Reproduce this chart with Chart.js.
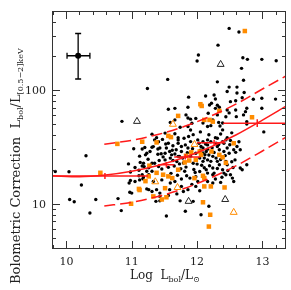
<!DOCTYPE html>
<html>
<head>
<meta charset="utf-8">
<script src="https://cdn.jsdelivr.net/npm/chart.js@4.4.1/dist/chart.umd.min.js"></script>
<style>
  html, body { margin: 0; padding: 0; background: #fff; }
  #wrap { width: 291px; height: 290px; }
</style>
</head>
<body>
<div id="wrap"><canvas id="bcChart" width="291" height="290"></canvas></div>
<script>
// Axis ticks
const xTickLabels = [10, 11, 12, 13];
const xMinorTicks = [9.8, 10.2, 10.4, 10.6, 10.8, 11.2, 11.4, 11.6, 11.8, 12.2, 12.4, 12.6, 12.8, 13.2];
const yTickLabels = [10, 100];
const yMinorTicks = [5, 6, 7, 8, 9, 20, 30, 40, 50, 60, 70, 80, 90, 200, 300, 400];

// Sources: [log Lbol, bolometric correction]
const blackPts = [
  [12.49,348],[12.64,324],[12.32,248],[12.02,203],[12.00,180],[12.70,192],[12.77,186],[12.99,186],[13.21,181],
  [11.55,124],[11.24,103],[10.85,53],[12.31,118],[12.68,155],[12.71,122],[12.49,106],[12.46,97],[12.61,106],[12.61,94],[12.72,95],
  [11.87,86.5],[12.13,88.6],[12.26,90.4],[12.28,83.4],[12.59,80.5],[12.69,85.5],[12.86,83],[12.99,84.5],[13.20,83.2],
  [11.56,67.8],[11.66,69],[11.86,70.5],[12.22,76.5],[12.31,73.5],[12.28,69],[12.34,70.5],[12.46,66.8],[12.59,66.8],[12.76,69.2],[12.99,69.2],
  [11.83,60.4],[11.86,56.8],[11.59,51.9],[11.66,54.6],[11.74,47.1],[11.92,51],[12.17,62.5],[12.31,60.4],[12.60,58.3],[12.71,60.4],[12.44,58.1],
  [11.90,55.4],[12.24,54.6],[12.33,51.9],[11.86,47.7],[12.16,47.7],[12.35,48.3],[12.76,50.3],[13.02,42.8],[12.51,79],[12.49,62.9],
  [12.74,64.5],[12.76,52.7],[12.09,51.2],[12.21,48.6],[12.39,51.2],[12.39,44.6],[12.19,73.9],[11.98,56.3],
  [11.31,40.9],[11.38,38.1],[11.51,41.8],[11.57,39],[11.71,38.1],[11.80,37.6],[11.87,39],
  [11.03,30.4],[11.20,31.2],[11.16,30.3],[11.21,26.9],[11.23,27.8],[11.31,31.4],[11.40,30.3],[11.56,34],[11.63,32.3],[11.71,34],
  [11.82,32.9],[11.53,30.9],[11.58,28.8],[11.68,29.8],[11.76,28.8],[11.41,35.1],[11.33,31.8],[11.71,36.4],
  [12.01,36.4],[12.16,36.4],[12.31,37.6],[12.39,35.1],[12.44,36.4],[12.51,36],[12.61,31.9],[12.09,30.9],[11.76,31.9],[11.86,30.9],
  [12.31,31.9],[12.09,35.1],[12.16,32.9],[12.21,35.1],[12.29,34],[12.41,34],[11.98,27.8],[12.14,28.8],[12.34,29.8],[12.41,28.8],
  [12.56,29.8],[12.59,28.3],[12.28,38.1],[12.46,38.1],[12.64,35.1],[12.66,29.8],[12.49,27.8],[11.35,36.4],[11.43,30.9],[12.09,28],
  [12.16,30.2],[11.51,27.8],[11.61,26.9],[11.73,26.1],[11.28,28.8],
  [10.95,22.4],[11.05,20.8],[11.13,23.1],[11.18,22.7],[11.16,21.5],[11.35,22.7],[11.42,24],[11.51,24.3],[11.59,25.2],[11.63,24],
  [11.71,26.1],[11.78,25.2],[11.73,22.4],[11.65,21.5],[11.56,20.9],[11.46,20.2],[11.31,19.3],[11.23,19.3],[11.11,19.7],[10.98,19],
  [11.11,17.6],[11.18,17.2],[11.26,18],[11.81,19.3],[11.84,17.6],[11.89,16.8],[11.76,16.5],[11.66,15.7],[11.59,15.2],[11.46,16.2],
  [11.33,15.7],[11.12,16.2],[11.05,15.7],[10.96,15.2],[11.26,13.3],[11.31,12.8],[11.38,13.3],[11.43,12.4],[11.58,13.3],[11.76,14.2],
  [11.79,12.8],[11.86,13.3],[10.97,12.6],[11.00,12.4],[11.43,11.6],[11.56,11.8],[11.37,10.5],[11.43,10.6],[11.74,10.6],[11.53,7.8],
  [11.82,8.6],[11.16,18],[11.98,17.3],[11.31,22.7],[11.41,21.2],[11.26,20.7],[11.94,22.7],[12.16,24.3],
  [12.09,23.6],[12.21,23.6],[12.29,25.2],[12.34,22],[12.46,22],[12.24,20.6],[12.14,19.9],[12.04,19.2],[12.16,18.6],[12.26,18.6],
  [12.41,18.6],[12.44,18],[12.01,15.7],[12.16,15.7],[12.24,15.2],[12.36,15.4],[12.54,16.8],[12.56,15.7],[12.66,20.6],[12.69,19.9],
  [12.76,22],[11.98,14.2],[12.04,13],[11.94,10.5],[12.18,9.5],[12.06,8.0],[12.44,23.6],[12.58,24.3],[12.11,20.7],[12.39,19.9],
  [12.24,18],[12.51,18],[12.24,26.1],[12.11,25.2],[12.04,25.2],[12.46,30.9],[12.06,31.9],[12.31,23.6],
  [10.30,26.4],[9.83,19.2],[10.04,19.1],[10.23,14.6],[10.05,10.9],[10.12,10.4],[10.45,10.9],[10.36,8.3],[10.79,11.1],[10.84,8.7],
  [10.98,16.0],[11.19,21.2],[11.17,16.6],[11.23,13.5],
  [11.45,27.5],[11.48,25.8],[11.62,29.5],[11.66,27.4],[11.69,23.5],[11.75,20.3],[11.79,22.8],[11.83,21.0],[11.85,28.1],[11.90,26.2],
  [11.93,30.5],[11.95,20.0],[11.97,18.8],[12.00,22.3],[12.03,34.0],[12.05,29.6],[12.07,21.8],[12.12,27.0],[12.13,33.5],[12.18,26.8],
  [12.19,21.6],[12.23,31.0],[12.26,28.2],[12.28,16.5],[12.31,20.4],[12.33,33.2],[12.36,24.5],[12.38,17.1],[12.43,26.5],[12.47,19.6],
  [12.50,33.0],[12.53,23.4],[12.55,20.8],[11.52,33.5],[11.47,36.8],[11.66,41.2],[11.90,35.2],[11.94,40.5],[12.05,42.8],[12.18,40.4],
  [12.36,41.0],[12.53,42.0],[11.60,18.5],[11.70,17.8],[11.92,14.8],[11.69,12.2],[11.25,24.6],[11.40,27.2],[11.12,26.2],[11.90,44.5]
];
const orangePts = [
  [12.73,330],[10.78,33.6],[11.16,35.1],[11.71,59.2],[11.60,38.5],[12.05,75],[12.07,72.4],[12.34,65.5],[12.84,57.6],[12.11,54.6],
  [11.56,39.5],[12.56,34],[11.38,34.6],[11.91,28.3],[11.27,21.6],[11.83,26.4],[11.88,24],[11.81,23.1],[10.52,18.7],[11.38,18.7],
  [11.48,18],[11.56,17.4],[11.62,16.8],[11.71,19.9],[11.21,15.8],[11.11,13.5],[11.12,13.2],[11.51,13.7],[11.33,11.6],[11.46,10.9],
  [11.53,11.4],[10.99,10.0],[11.26,17.4],[12.06,26.9],[12.22,28.8],[11.98,24.3],[12.39,25.6],[12.44,22.9],[12.09,17.6],[12.11,16.8],
  [11.96,16.8],[12.11,14.2],[12.21,14.2],[12.42,13.9],[12.09,10.3],[12.20,8.0],[12.18,6.3],[12.04,28.8],[12.34,26.9],[12.19,54.6],
  [12.24,52.7]
];
const blackTriPts = [[11.08,53],[12.36,168],[11.87,10.5],[12.43,10.9]];
const orangeTriPts = [[11.63,50],[11.96,33.2],[11.36,15.6],[11.70,13.9],[12.56,8.4]];

// Fit curve and dispersion band
const fitX = [9.78, 10.2, 10.6, 11.0, 11.4, 11.8, 12.2, 12.6, 13.0, 13.36];
const fitMid = [17.6, 17.3, 17.9, 19.3, 21.7, 25.5, 31.4, 40.4, 54.4, 72];
const bandX = [10.58, 11.0, 11.4, 11.8, 12.2, 12.6, 13.0, 13.36];
const bandUpper = [33.4, 36.1, 40.6, 47.7, 58.7, 75.5, 102, 133];
const bandLower = [9.55, 10.3, 11.6, 13.6, 16.8, 21.6, 29.1, 38.5];

// Binned means with errors
const binX = [10.59, 11.53, 11.82, 12.26, 12.92];
const binY = [17.5, 22.0, 25.8, 34.3, 51.1];
const binXLo = [9.78, 11.40, 11.65, 12.00, 12.40];
const binXHi = [11.25, 11.65, 12.05, 12.43, 13.36];
const binYLo = [16.5, 20.8, 24.5, 32.2, 47.2];
const binYHi = [18.6, 23.3, 27.2, 36.5, 55.3];

// Typical error (top left)
const typX = [10.18];
const typY = [200];
const typXLo = [10.01];
const typXHi = [10.36];
const typYLo = [125];
const typYHi = [314];

const RED = "#ff1a1a";
const ORANGE = "#ff8c00";
const SERIF = "'DejaVu Serif', serif";

const toXY = (pairs) => pairs.map(([x, y]) => ({ x, y }));
const zipXY = (xs, ys) => xs.map((x, i) => ({ x, y: ys[i] }));

// Draws error bars for the binned means and the typical error point
const errorBarPlugin = {
  id: "errorBars",
  afterDatasetsDraw(chart) {
    const { ctx, chartArea } = chart;
    const xs = chart.scales.x;
    const ys = chart.scales.y;
    ctx.save();
    ctx.beginPath();
    ctx.rect(chartArea.left, chartArea.top, chartArea.right - chartArea.left, chartArea.bottom - chartArea.top);
    ctx.clip();

    ctx.strokeStyle = RED;
    ctx.lineWidth = 1.5;
    binX.forEach((x, i) => {
      const px = xs.getPixelForValue(x);
      const py = ys.getPixelForValue(binY[i]);
      ctx.beginPath();
      ctx.moveTo(xs.getPixelForValue(binXLo[i]), py);
      ctx.lineTo(xs.getPixelForValue(binXHi[i]), py);
      ctx.moveTo(px, ys.getPixelForValue(binYLo[i]));
      ctx.lineTo(px, ys.getPixelForValue(binYHi[i]));
      ctx.stroke();
    });

    ctx.strokeStyle = "#000";
    ctx.lineWidth = 1.3;
    const cap = 3;
    typX.forEach((x, i) => {
      const px = xs.getPixelForValue(x);
      const py = ys.getPixelForValue(typY[i]);
      const x0 = xs.getPixelForValue(typXLo[i]);
      const x1 = xs.getPixelForValue(typXHi[i]);
      const y0 = ys.getPixelForValue(typYLo[i]);
      const y1 = ys.getPixelForValue(typYHi[i]);
      ctx.beginPath();
      ctx.moveTo(x0, py); ctx.lineTo(x1, py);
      ctx.moveTo(x0, py - cap); ctx.lineTo(x0, py + cap);
      ctx.moveTo(x1, py - cap); ctx.lineTo(x1, py + cap);
      ctx.moveTo(px, y0); ctx.lineTo(px, y1);
      ctx.moveTo(px - cap, y0); ctx.lineTo(px + cap, y0);
      ctx.moveTo(px - cap, y1); ctx.lineTo(px + cap, y1);
      ctx.stroke();
    });
    ctx.restore();
  },
};

// Draws a text made of normal and subscript parts
function drawParts(ctx, parts, x, y) {
  let cx = x;
  parts.forEach(([text, size, shift]) => {
    ctx.font = `${size}px ${SERIF}`;
    ctx.fillText(text, cx, y + shift);
    cx += ctx.measureText(text).width;
  });
}

// Frame, inward ticks on all four sides, tick labels and axis titles
const framePlugin = {
  id: "frame",
  afterDraw(chart) {
    const { ctx, chartArea } = chart;
    const { left, right, top, bottom } = chartArea;
    const xs = chart.scales.x;
    const ys = chart.scales.y;
    ctx.save();
    ctx.strokeStyle = "#333";
    ctx.lineWidth = 1;
    ctx.strokeRect(left + 0.5, top + 0.5, right - left - 1, bottom - top - 1);

    ctx.beginPath();
    const xTick = (v, len) => {
      const px = Math.round(xs.getPixelForValue(v)) + 0.5;
      ctx.moveTo(px, bottom); ctx.lineTo(px, bottom - len);
      ctx.moveTo(px, top); ctx.lineTo(px, top + len);
    };
    const yTick = (v, len) => {
      const py = Math.round(ys.getPixelForValue(v)) + 0.5;
      ctx.moveTo(left, py); ctx.lineTo(left + len, py);
      ctx.moveTo(right, py); ctx.lineTo(right - len, py);
    };
    xTickLabels.forEach((v) => xTick(v, 8));
    xMinorTicks.forEach((v) => xTick(v, 4));
    yTickLabels.forEach((v) => yTick(v, 8));
    yMinorTicks.forEach((v) => yTick(v, 4));
    ctx.stroke();

    ctx.fillStyle = "#222";
    ctx.font = `11px ${SERIF}`;
    ctx.textAlign = "center";
    ctx.textBaseline = "alphabetic";
    xTickLabels.forEach((v) => ctx.fillText(String(v), xs.getPixelForValue(v), 265));
    ctx.textAlign = "right";
    yTickLabels.forEach((v) => ctx.fillText(String(v), 46, ys.getPixelForValue(v) + 4));

    ctx.textAlign = "left";
    drawParts(ctx, [["Log  L", 12, 0], ["bol", 8, 3], ["/L", 12, 0], ["\u2299", 8, 3]], 130, 279);

    ctx.translate(20, 284);
    ctx.rotate(-Math.PI / 2);
    drawParts(ctx, [["Bolometric Correction  L", 13, 0], ["bol", 8, 3], ["/L", 13, 0], ["[0.5\u22122]keV", 8, 3]], 0, 0);
    ctx.restore();
  },
};

const ctx = document.getElementById("bcChart").getContext("2d");

new Chart(ctx, {
  type: "scatter",
  data: {
    datasets: [
      {
        type: "line", data: zipXY(fitX, fitMid), borderColor: RED, borderWidth: 1.5,
        pointRadius: 0, cubicInterpolationMode: "monotone", order: 0,
      },
      {
        type: "line", data: zipXY(bandX, bandUpper), borderColor: RED, borderWidth: 1.5, borderDash: [11, 5],
        pointRadius: 0, cubicInterpolationMode: "monotone", order: 0,
      },
      {
        type: "line", data: zipXY(bandX, bandLower), borderColor: RED, borderWidth: 1.5, borderDash: [11, 5],
        pointRadius: 0, cubicInterpolationMode: "monotone", order: 0,
      },
      {
        data: toXY(blackTriPts), pointStyle: "triangle", pointRadius: 4,
        backgroundColor: "rgba(0,0,0,0)", borderColor: "#222", borderWidth: 1, order: 1,
      },
      {
        data: toXY(orangeTriPts), pointStyle: "triangle", pointRadius: 4,
        backgroundColor: "rgba(0,0,0,0)", borderColor: ORANGE, borderWidth: 1, order: 1,
      },
      {
        data: zipXY(typX, typY), pointStyle: "circle", pointRadius: 3,
        backgroundColor: "#000", borderWidth: 0, order: 1,
      },
      {
        data: toXY(orangePts), pointStyle: "rect", pointRadius: 3.2,
        backgroundColor: ORANGE, borderWidth: 0, order: 2,
      },
      {
        data: toXY(blackPts), pointStyle: "circle", pointRadius: 1.7,
        backgroundColor: "#000", borderWidth: 0, order: 3,
      },
    ],
  },
  options: {
    responsive: false,
    animation: false,
    devicePixelRatio: 1,
    events: [],
    layout: { padding: { left: 52, right: 1, top: 11, bottom: 41 } },
    scales: {
      x: { type: "linear", min: 9.78, max: 13.36, display: false },
      y: { type: "logarithmic", min: 4, max: 495, display: false },
    },
    plugins: {
      legend: { display: false },
      tooltip: { enabled: false },
    },
  },
  plugins: [errorBarPlugin, framePlugin],
});
</script>
</body>
</html>
